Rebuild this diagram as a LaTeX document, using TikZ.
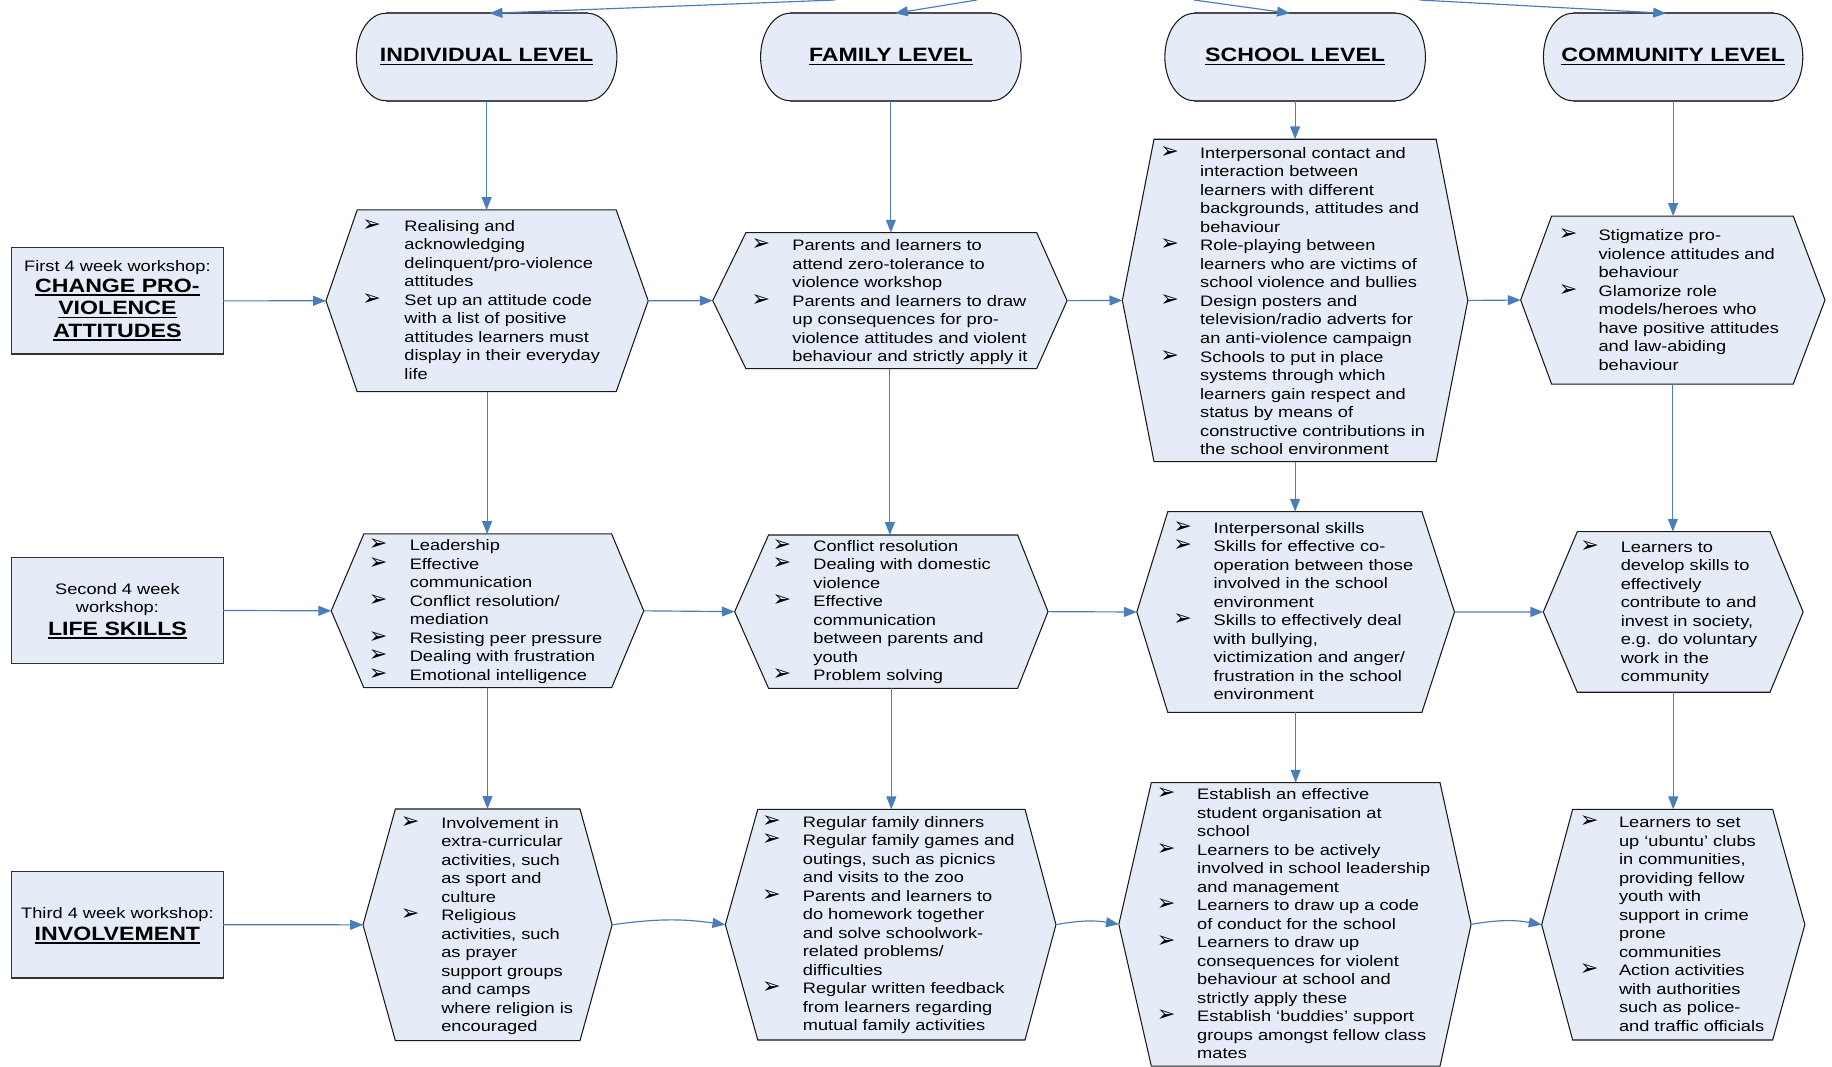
\documentclass[tikz,border=0pt]{standalone}
\usepackage{fontspec}
\setmainfont{Liberation Sans}[FakeStretch=1.2]
\newfontfamily\dingfont{DejaVu Sans}
\usetikzlibrary{arrows.meta}

\definecolor{boxfill}{RGB}{230,236,247}
\definecolor{linkblue}{RGB}{74,126,187}
\definecolor{edgedark}{RGB}{25,25,25}

\newcommand\bodyfont{\fontsize{13}{15.85}\selectfont}
\newcommand\headfont{\fontsize{16.5}{19}\selectfont\bfseries}
\newcommand\bu{\smash{\dingfont\fontsize{19}{19}\selectfont ➢}}
% bold underlined heading text
\newcommand\ulh[1]{\setbox0=\hbox{#1}\rlap{\rule[-3pt]{\wd0}{1.5pt}}\box0}
% bulleted list: bullet column width (pt), rows
\newcommand\blist[2]{\begin{tabular}[t]{@{}p{#1pt}@{}l@{}}#2\end{tabular}}

\tikzset{
  hexframe/.style={inner sep=0pt, outer sep=0pt, draw=none, shape=rectangle},
  panel/.style={fill=boxfill, draw=edgedark, line width=0.9pt, line join=miter},
  rim/.style={draw=black!70, line width=1.5pt},
  wsbox/.style={hexframe, fill=boxfill, draw=black!80, line width=1pt, minimum width=181, minimum height=91},
  heading/.style={inner sep=0pt, anchor=base, font=\headfont},
  wstext/.style={inner sep=0pt, anchor=base, font=\bodyfont},
  listtext/.style={inner sep=0pt, anchor=base west, font=\bodyfont},
  link/.style={draw=linkblue, line width=1pt, -{Triangle[length=11pt,width=8.5pt]}},
}

% hexagon: name, x left point, x top-left, x top-right, x right point, top, bottom
\newcommand\mkhex[7]{%
  \node[hexframe, minimum width={#5-#2}, minimum height={#7-#6}] (#1) at ({(#2+#5)/2},{(#6+#7)/2}) {};
  \filldraw[panel] (#1.west) -- (#3,#6) -- (#4,#6) -- (#1.east) -- (#4,#7) -- (#3,#7) -- cycle;}

% level header: name, left x, right x
\newcommand\mkhead[3]{%
  \node[hexframe, minimum width={#3-#2}, minimum height=74.8] (#1) at ({(#2+#3)/2},48.8) {};
  \filldraw[panel] ([xshift=25pt]#1.north west) -- ([xshift=-25pt]#1.north east)
     arc[start angle=90, end angle=-90, x radius=25pt, y radius=37.4pt]
     -- ([xshift=25pt]#1.south west)
     arc[start angle=270, end angle=90, x radius=25pt, y radius=37.4pt] -- cycle;
  \draw[rim] ([xshift=25pt]#1.north west) -- ([xshift=-25pt]#1.north east);
  \draw[rim] ([xshift=25pt]#1.south west) -- ([xshift=-25pt]#1.south east);}

\begin{document}
\begin{tikzpicture}[x=1pt, y=-1pt]
\clip (0,0) rectangle (1568,913);
\fill[white] (0,0) rectangle (1568,913);

% ---------- level headers ----------
\mkhead{hind}{305}{528}
\mkhead{hfam}{651}{874}
\mkhead{hsch}{997}{1220}
\mkhead{hcom}{1321}{1543}
\node[heading] (hindt) at (416.5,53) {\ulh{INDIVIDUAL LEVEL}};
\node[heading] (hfamt) at (762.5,53) {\ulh{FAMILY LEVEL}};
\node[heading] (hscht) at (1108.5,53) {\ulh{SCHOOL LEVEL}};
\node[heading] (hcomt) at (1432,53) {\ulh{COMMUNITY LEVEL}};

% ---------- workshop boxes ----------
\node[wsbox] (w1) at (100.5,257.5) {};
\node[wsbox] (w2) at (100.5,522.5) {};
\node[wsbox] (w3) at (100.5,791.5) {};
\node[wstext] (w1a) at (100.5,232) {First 4 week workshop:};
\node[heading] (w1b) at (100.5,250.5) {\ulh{CHANGE PRO-}};
\node[heading] (w1c) at (100.5,269.5) {\ulh{VIOLENCE}};
\node[heading] (w1d) at (100.5,288.5) {\ulh{ATTITUDES}};
\node[wstext] (w2a) at (100.5,508.4) {Second 4 week};
\node[wstext] (w2b) at (100.5,524) {workshop:};
\node[heading] (w2c) at (100.5,543.5) {\ulh{LIFE SKILLS}};
\node[wstext] (w3a) at (100.5,786) {Third 4 week workshop:};
\node[heading] (w3b) at (100.5,805) {\ulh{INVOLVEMENT}};

% ---------- row 1: change pro-violence attitudes ----------
\mkhex{i1}{279}{305.7}{527.4}{554.8}{179.7}{335.2}
\mkhex{f1}{610}{638.4}{887.3}{913.3}{199.1}{315.5}
\mkhex{s1}{960.6}{987.7}{1229.2}{1256.3}{119.2}{395.1}
\mkhex{c1}{1301.5}{1328}{1534.8}{1562}{184.9}{328.7}

% ---------- row 2: life skills ----------
\mkhex{i2}{283.5}{311.4}{523.5}{551}{457}{588.6}
\mkhex{f2}{628.8}{657.8}{871}{897}{457.9}{589.1}
\mkhex{s2}{973}{999.5}{1217}{1244.9}{437.9}{609.7}
\mkhex{c2}{1320.9}{1350}{1514.9}{1543.3}{455}{592.5}

% ---------- row 3: involvement ----------
\mkhex{i3}{310.7}{338.4}{496.4}{523.9}{692.4}{890.7}
\mkhex{f3}{620.8}{648.6}{877.3}{903.8}{692.7}{890.1}
\mkhex{s3}{957.6}{985.4}{1232.5}{1259.1}{669.9}{912.4}
\mkhex{c3}{1319.5}{1346}{1517.2}{1544.8}{692.7}{890.1}

% ---------- list texts ----------
\node[listtext] (i1t) at (310,198) {\blist{36}{%
\bu & Realising and\\ & acknowledging\\ & delinquent/pro-violence\\ & attitudes\\
\bu & Set up an attitude code\\ & with a list of positive\\ & attitudes learners must\\ & display in their everyday\\ & life}};

\node[listtext] (f1t) at (643,214.5) {\blist{35}{%
\bu & Parents and learners to\\ & attend zero-tolerance to\\ & violence workshop\\
\bu & Parents and learners to draw\\ & up consequences for pro-\\ & violence attitudes and violent\\ & behaviour and strictly apply it}};

\node[listtext] (s1t) at (993,135.5) {\blist{34}{%
\bu & Interpersonal contact and\\ & interaction between\\ & learners with different\\ & backgrounds, attitudes and\\ & behaviour\\
\bu & Role-playing between\\ & learners who are victims of\\ & school violence and bullies\\
\bu & Design posters and\\ & television/radio adverts for\\ & an anti-violence campaign\\
\bu & Schools to put in place\\ & systems through which\\ & learners gain respect and\\ & status by means of\\ & constructive contributions in\\ & the school environment}};

\node[listtext] (c1t) at (1334,206) {\blist{34}{%
\bu & Stigmatize pro-\\ & violence attitudes and\\ & behaviour\\
\bu & Glamorize role\\ & models/heroes who\\ & have positive attitudes\\ & and law-abiding\\ & behaviour}};

\node[listtext] (i2t) at (315.5,471.2) {\blist{35}{%
\bu & Leadership\\
\bu & Effective\\ & communication\\
\bu & Conflict resolution/\\ & mediation\\
\bu & Resisting peer pressure\\
\bu & Dealing with frustration\\
\bu & Emotional intelligence}};

\node[listtext] (f2t) at (661,471.8) {\blist{35}{%
\bu & Conflict resolution\\
\bu & Dealing with domestic\\ & violence\\
\bu & Effective\\ & communication\\ & between parents and\\ & youth\\
\bu & Problem solving}};

\node[listtext] (s2t) at (1004,456.4) {\blist{34.5}{%
\bu & Interpersonal skills\\
\bu & Skills for effective co-\\ & operation between those\\ & involved in the school\\ & environment\\
\bu & Skills to effectively deal\\ & with bullying,\\ & victimization and anger/\\ & frustration in the school\\ & environment}};

\node[listtext] (c2t) at (1352.5,472.5) {\blist{34.5}{%
\bu & Learners to\\ & develop skills to\\ & effectively\\ & contribute to and\\ & invest in society,\\ & e.g. do voluntary\\ & work in the\\ & community}};

\node[listtext] (i3t) at (343,708.9) {\blist{34.5}{%
\bu & Involvement in\\ & extra-curricular\\ & activities, such\\ & as sport and\\ & culture\\
\bu & Religious\\ & activities, such\\ & as prayer\\ & support groups\\ & and camps\\ & where religion is\\ & encouraged}};

\node[listtext] (f3t) at (652,708) {\blist{35}{%
\bu & Regular family dinners\\
\bu & Regular family games and\\ & outings, such as picnics\\ & and visits to the zoo\\
\bu & Parents and learners to\\ & do homework together\\ & and solve schoolwork-\\ & related problems/\\ & difficulties\\
\bu & Regular written feedback\\ & from learners regarding\\ & mutual family activities}};

\node[listtext] (s3t) at (990,684.3) {\blist{34.5}{%
\bu & Establish an effective\\ & student organisation at\\ & school\\
\bu & Learners to be actively\\ & involved in school leadership\\ & and management\\
\bu & Learners to draw up a code\\ & of conduct for the school\\
\bu & Learners to draw up\\ & consequences for violent\\ & behaviour at school and\\ & strictly apply these\\
\bu & Establish ‘buddies’ support\\ & groups amongst fellow class\\ & mates}};

\node[listtext] (c3t) at (1352,708.5) {\blist{33.5}{%
\bu & Learners to set\\ & up ‘ubuntu’ clubs\\ & in communities,\\ & providing fellow\\ & youth with\\ & support in crime\\ & prone\\ & communities\\
\bu & Action activities\\ & with authorities\\ & such as police-\\ & and traffic officials}};

% ---------- incoming links from above ----------
\coordinate (up1) at (715,0);
\coordinate (up2) at (836,0);
\coordinate (up3) at (1022,0);
\coordinate (up4) at (1215,0);
\draw[link] (up1) -- ([xshift=2.5pt]hind.north);
\draw[link] (up2) -- ([xshift=3.5pt]hfam.north);
\draw[link] (up3) -- ([xshift=-4.5pt]hsch.north);
\draw[link] (up4) -- ([xshift=-6pt]hcom.north);

% ---------- vertical links ----------
\foreach \h/\a/\b/\c in {hind/i1/i2/i3, hfam/f1/f2/f3, hsch/s1/s2/s3, hcom/c1/c2/c3}{
  \draw[link] (\h.south) -- (\h.south |- \a.north);
  \draw[link] (\a.south) -- (\a.south |- \b.north);
  \draw[link] (\b.south) -- (\b.south |- \c.north);
}

% ---------- horizontal links ----------
\draw[link] (w1.east) -- (i1.west);
\draw[link] (i1.east) -- (f1.west);
\draw[link] (f1.east) -- (s1.west);
\draw[link] (s1.east) -- (c1.west);
\draw[link] (w2.east) -- (i2.west);
\draw[link] (i2.east) -- (f2.west);
\draw[link] (f2.east) -- (s2.west);
\draw[link] (s2.east) -- (c2.west);
\draw[link] (w3.east) to[out=0, in=180] (i3.west);
\draw[link] (i3.east) to[bend left=8] (f3.west);
\draw[link] (f3.east) to[bend left=10] (s3.west);
\draw[link] (s3.east) to[bend left=10] (c3.west);
\end{tikzpicture}
\end{document}
